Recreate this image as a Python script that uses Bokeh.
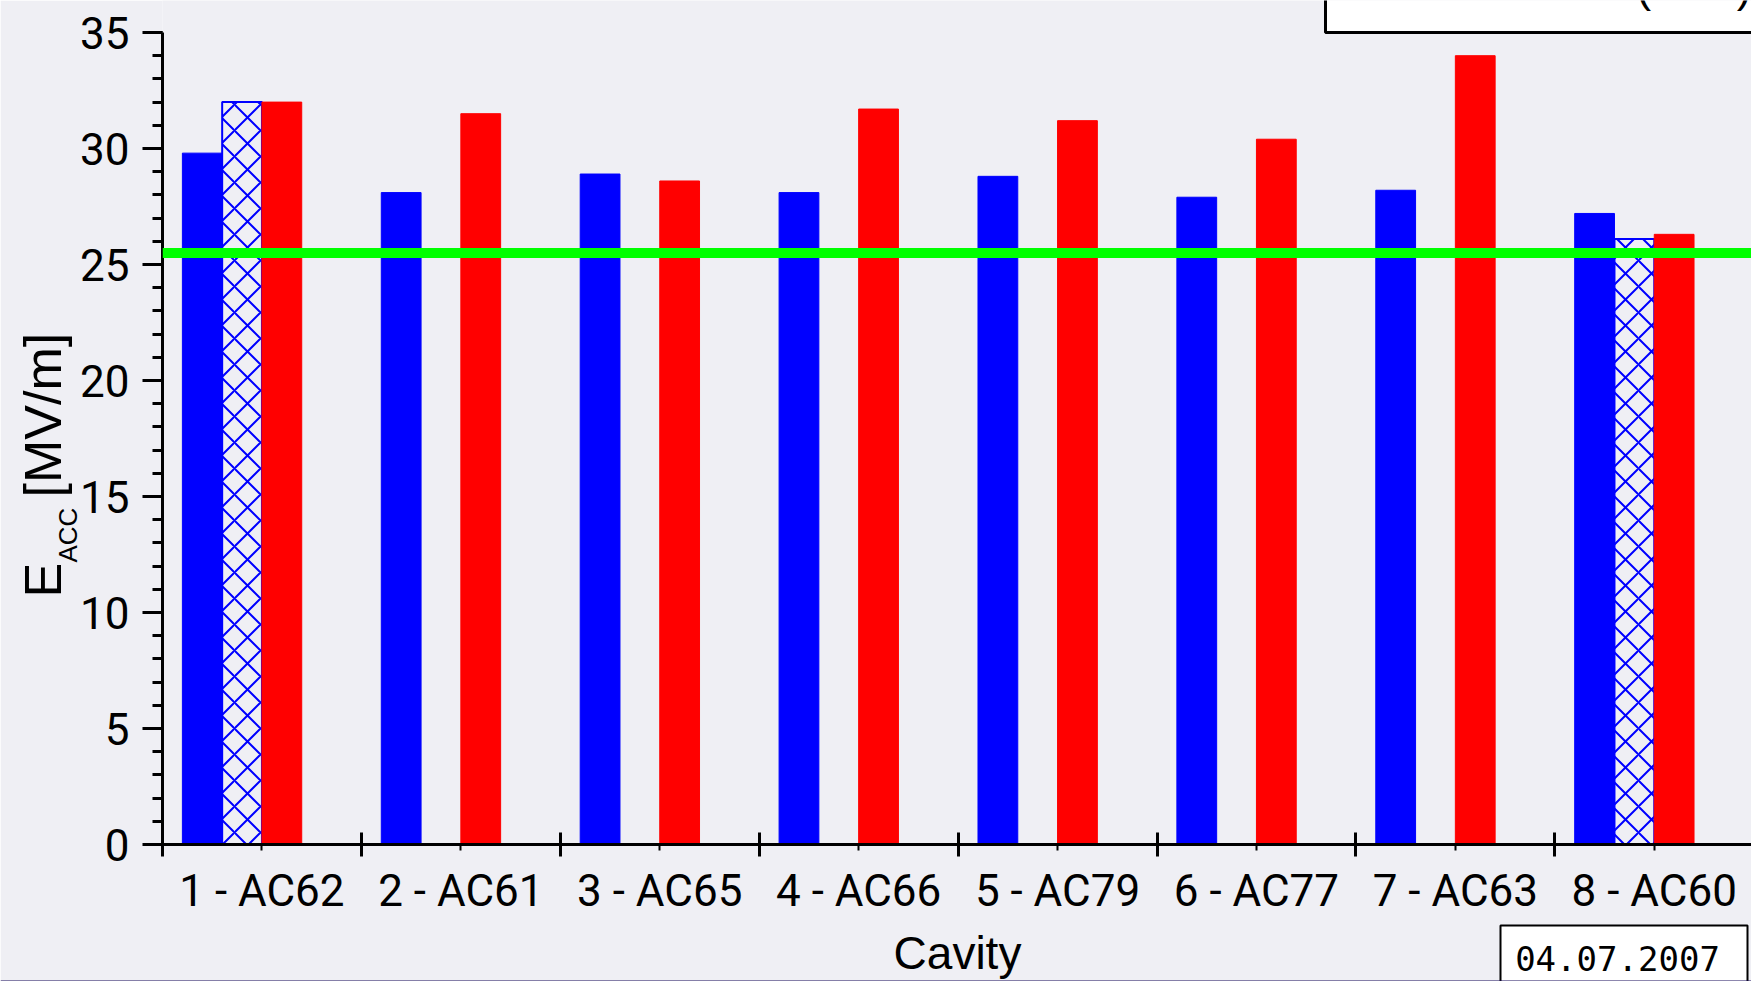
import math

from bokeh.embed import file_html
from bokeh.models import (ColumnDataSource, FixedTicker, Label, Range1d,
                          SingleIntervalTicker, Span)
from bokeh.plotting import figure
from bokeh.resources import INLINE
from bokeh.transform import dodge

# ---- data -------------------------------------------------------------
nan = float("nan")
cavities = ["1 - AC62", "2 - AC61", "3 - AC65", "4 - AC66",
            "5 - AC79", "6 - AC77", "7 - AC63", "8 - AC60"]
eacc_blue = [29.8, 28.1, 28.9, 28.1, 28.8, 27.9, 28.2, 27.2]
eacc_hatched = [32.0, nan, nan, nan, nan, nan, nan, 26.1]
eacc_red = [32.0, 31.5, 28.6, 31.7, 31.2, 30.4, 34.0, 26.3]
eacc_limit = 25.5
y_ticks_step = 5
y_max = 35
date_stamp = "04.07.2007"
y_label_main = "E"
y_label_sub = "ACC"
y_label_unit = "[MV/m]"
x_label = "Cavity"

# ---- layout / style ---------------------------------------------------
W, H = 1751, 981
FRAME_LEFT, FRAME_BOTTOM = 162, 844
X_PITCH = 198.9                      # pixels per cavity slot
Y_END = y_max * FRAME_BOTTOM / (FRAME_BOTTOM - 32)
X_END = 0.5 + (W - FRAME_LEFT) / X_PITCH

BG = "#EFEFF4"
BLUE = "#0000FF"
RED = "#FF0000"
GREEN = "#00FF00"
TICK_FONT = "Roboto"
SANS = "Liberation Sans"
NBSP = "\u00a0"
BASE_SHIFT = 0.33                    # label anchor sits this many em above the baseline


def anchor(baseline, size):
    """anchor coordinate that puts the text baseline at `baseline`"""
    return baseline - BASE_SHIFT * size


pos = list(range(1, len(cavities) + 1))
src = ColumnDataSource(dict(pos=pos, blue=eacc_blue, hatched=eacc_hatched, red=eacc_red))

# ---- main chart: bars and axes ----------------------------------------
p = figure(width=W, height=H, output_backend="svg", toolbar_location=None,
           title_location=None,
           x_range=Range1d(0.5, X_END), y_range=Range1d(0, Y_END),
           min_border_left=FRAME_LEFT, min_border_right=0, min_border_top=0,
           min_border_bottom=H - FRAME_BOTTOM)
p.background_fill_color = BG
p.border_fill_color = BG
p.outline_line_color = None
p.grid.visible = False

# three slots per cavity: blue, hatched, red
p.vbar(x=dodge("pos", -0.3, range=p.x_range), top="blue", width=0.2, source=src,
       fill_color=BLUE, line_color=BLUE, line_width=1)
p.vbar(x=dodge("pos", -0.1, range=p.x_range), top="hatched", width=0.2, source=src,
       fill_color=BG, line_color=BLUE, line_width=2,
       hatch_pattern="diagonal_cross", hatch_color=BLUE, hatch_scale=26, hatch_weight=2)
p.vbar(x=dodge("pos", 0.1, range=p.x_range), top="red", width=0.2, source=src,
       fill_color=RED, line_color=RED, line_width=1)

# specification line
p.add_layout(Span(location=eacc_limit, dimension="width", line_color=GREEN, line_width=10))

# y axis
ya = p.yaxis[0]
ya.ticker = SingleIntervalTicker(interval=y_ticks_step, num_minor_ticks=5)
ya.bounds = (0, y_max)
ya.axis_line_width = 3
ya.major_tick_line_width = 3
ya.minor_tick_line_width = 3
ya.major_tick_in = 0
ya.major_tick_out = 20
ya.minor_tick_in = 0
ya.minor_tick_out = 10
ya.major_label_standoff = 13
ya.major_label_text_font = TICK_FONT
ya.major_label_text_font_size = "44px"
ya.major_label_text_color = "black"

# x axis: labels in the middle of each slot, long ticks between slots
xa = p.xaxis[0]
xa.ticker = FixedTicker(ticks=pos, minor_ticks=[i + 0.5 for i in range(len(cavities) + 1)])
xa.major_label_overrides = {i: c for i, c in zip(pos, cavities)}
xa.axis_line_width = 3
xa.major_tick_line_width = 2
xa.major_tick_in = 0
xa.major_tick_out = 6
xa.minor_tick_line_width = 3
xa.minor_tick_in = 12
xa.minor_tick_out = 12
xa.major_label_standoff = 8
xa.major_label_text_font = TICK_FONT
xa.major_label_text_font_size = "44px"
xa.major_label_text_color = "black"

# ---- transparent sheet laid over the chart: titles, frames, date ------
# its frame covers the whole page, in pixel coordinates (y pointing down)
ov = figure(width=W, height=H, output_backend="svg", toolbar_location=None,
            title_location=None, x_axis_location=None, y_axis_location=None,
            x_range=Range1d(0, W), y_range=Range1d(H, 0), min_border=0)
ov.background_fill_alpha = 0
ov.border_fill_alpha = 0
ov.outline_line_color = None
ov.grid.visible = False
ov.styles = {"position": "absolute", "top": "0px", "left": "0px", "z-index": "1"}

# x title
ov.add_layout(Label(x=957, y=anchor(968, 46), text=x_label, text_align="center",
                    text_baseline="alphabetic", text_font=SANS, text_font_size="46px",
                    text_color="black"))

# y title (reads upwards): E with subscript ACC, then the unit
rot = math.pi / 2
ov.add_layout(Label(x=anchor(60, 52), y=597, text=y_label_main, angle=rot,
                    text_font=SANS, text_font_size="52px", text_color="black",
                    text_baseline="alphabetic"))
ov.add_layout(Label(x=anchor(76, 26), y=562, text=y_label_sub, angle=rot,
                    text_font=SANS, text_font_size="26px", text_color="black",
                    text_baseline="alphabetic"))
ov.add_layout(Label(x=anchor(60, 52), y=497, text=y_label_unit, angle=rot,
                    text_font=SANS, text_font_size="52px", text_color="black",
                    text_baseline="alphabetic"))

# legend frame at the top right (runs past the page edge)
ov.quad(left=[1325], right=[1800], top=[-30], bottom=[32],
        fill_color="white", line_color="black", line_width=3)
ov.add_layout(Label(x=1636, y=anchor(1, 44), text="(" + NBSP * 7 + ")", text_font=SANS,
                    text_font_size="44px", text_color="black",
                    text_baseline="alphabetic"))

# date stamp in its box
ov.quad(left=[1500], right=[1747], top=[925], bottom=[1000],
        fill_color="white", line_color="black", line_width=2)
ov.add_layout(Label(x=1617, y=anchor(969, 34), text=date_stamp, text_align="center",
                    text_baseline="alphabetic", text_font="DejaVu Sans Mono",
                    text_font_size="34px", text_color="black"))

# thin rule along the bottom edge
ov.segment(x0=[0], x1=[W], y0=[980.5], y1=[980.5], line_color="#1B0F5C", line_width=1)

open("out.html", "w").write(file_html([p, ov], INLINE))
